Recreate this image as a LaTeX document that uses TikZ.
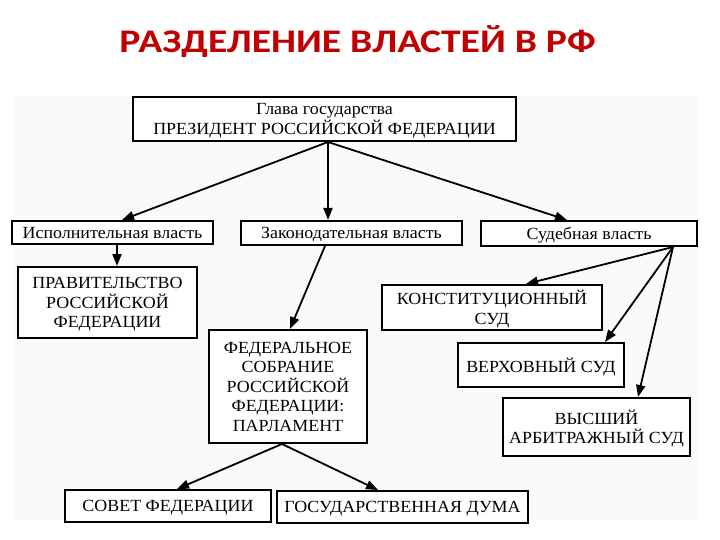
\documentclass[tikz,border=0pt]{standalone}
\usepackage{fontspec}
\setmainfont[FakeStretch=1.055]{Liberation Serif}
\newfontfamily\titlefont[FakeStretch=1.2]{Carlito}
\usetikzlibrary{arrows.meta, positioning}
\definecolor{vlastred}{RGB}{192, 0, 0}
\definecolor{vlastink}{RGB}{0, 0, 0}
\definecolor{vlastpanel}{RGB}{250, 250, 250}
\tikzset{
  box/.style={
    draw=vlastink,
    line width=2pt,
    fill=white,
    inner sep=0pt,
    align=center,
    text depth=0pt,
    font=\fontsize{17}{19.5}\selectfont
  },
  every edge/.style={
    draw=vlastink,
    line width=1.8pt,
    -{Triangle[length=12pt,width=9pt]}
  }
}
\begin{document}
\begin{tikzpicture}[x=1pt, y=-1pt]
            \useasboundingbox[fill=white] (0,0) rectangle (720,540);
            \fill[vlastpanel] (15,96) rectangle (698,520);
            \node[anchor=base, text=vlastred, font=\titlefont\bfseries\fontsize{33}{33}\selectfont] (title) at (357.5,53) {РАЗДЕЛЕНИЕ ВЛАСТЕЙ В РФ};
            \node[box, minimum width=383pt, minimum height=44pt, text depth=-4pt] (pres) at (324.5,119) {Глава государства\\ПРЕЗИДЕНТ РОССИЙСКОЙ ФЕДЕРАЦИИ};
            \node[box, minimum width=201pt, minimum height=23pt] (exec) at (112.5,232.5) {Исполнительная власть};
            \node[box, minimum width=221pt, minimum height=24pt] (legis) at (351.5,233) {Законодательная власть};
            \node[box, minimum width=216pt, minimum height=25pt] (jud) at (589,233.5) {Судебная власть};
            \node[box, minimum width=179pt, minimum height=71pt] (gov) at (107.5,302.5) {ПРАВИТЕЛЬСТВО\\РОССИЙСКОЙ\\ФЕДЕРАЦИИ};
            \node[box, minimum width=158pt, minimum height=113pt] (fedsob) at (288,386.5) {ФЕДЕРАЛЬНОЕ\\СОБРАНИЕ\\РОССИЙСКОЙ\\ФЕДЕРАЦИИ:\\ПАРЛАМЕНТ};
            \node[box, minimum width=220pt, minimum height=45pt] (const) at (492,307.5) {КОНСТИТУЦИОННЫЙ\\СУД};
            \node[box, minimum width=166pt, minimum height=44pt] (supreme) at (541,365) {ВЕРХОВНЫЙ СУД};
            \node[box, minimum width=187pt, minimum height=58pt] (arb) at (596.5,427) {ВЫСШИЙ\\АРБИТРАЖНЫЙ СУД};
            \node[box, minimum width=206pt, minimum height=32pt] (council) at (168,506) {СОВЕТ ФЕДЕРАЦИИ};
            \node[box, minimum width=251pt, minimum height=32pt] (duma) at (402.5,507) {ГОСУДАРСТВЕННАЯ ДУМА};
            \path ([xshift=3.5pt]pres.south) edge ([xshift=9.5pt]exec.north)
                  ([xshift=3.5pt]pres.south) edge ([xshift=-23.5pt]legis.north)
                  ([xshift=3.5pt]pres.south) edge ([xshift=-22pt]jud.north)
                  ([xshift=4.5pt]exec.south) edge ([xshift=9.5pt]gov.north)
                  ([xshift=-26.5pt]legis.south) edge ([xshift=2pt]fedsob.north)
                  ([xshift=84pt]jud.south) edge ([xshift=34pt]const.north)
                  ([xshift=84pt]jud.south) edge ([xshift=64pt]supreme.north)
                  ([xshift=84pt]jud.south) edge ([xshift=41.5pt]arb.north)
                  ([xshift=-6pt]fedsob.south) edge ([xshift=9pt]council.north)
                  ([xshift=-6pt]fedsob.south) edge ([xshift=-24.5pt]duma.north);
          \end{tikzpicture}
\end{document}
